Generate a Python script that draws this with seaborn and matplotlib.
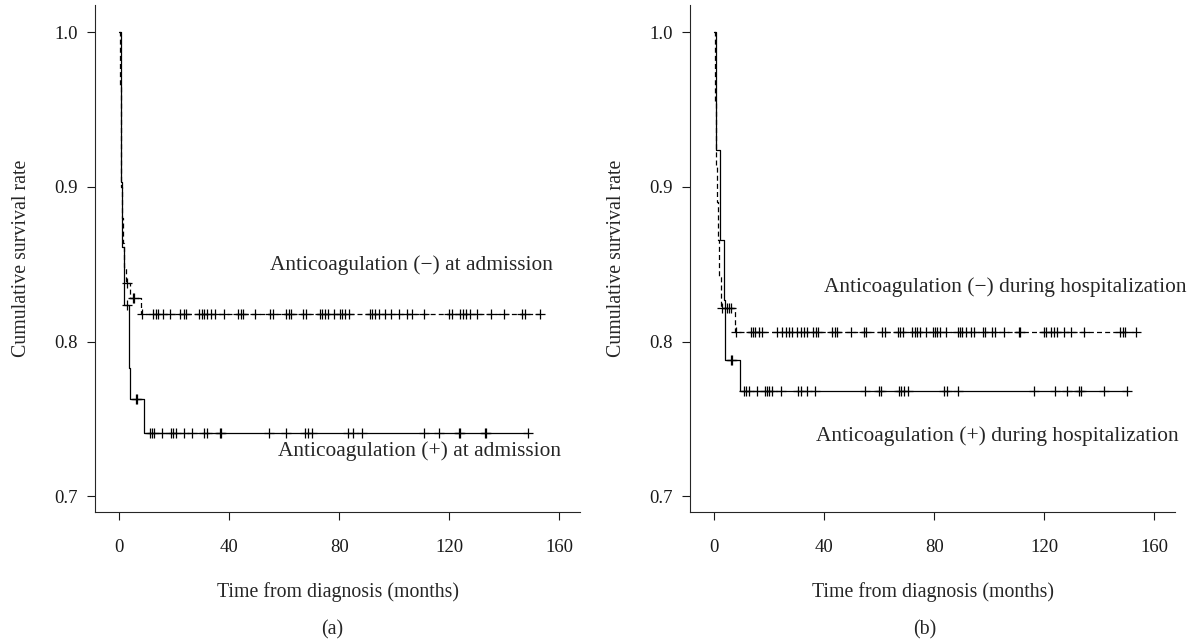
import numpy as np
import pandas as pd
import matplotlib
matplotlib.use("Agg")
import matplotlib.pyplot as plt
import seaborn as sns

# ---------------- Data ----------------
# Panel (a): anticoagulation at admission
a_neg_times = [0, 0.3, 0.6, 0.9, 1.2, 1.5, 1.9, 2.4, 3.9, 8.0]
a_neg_surv = [1.0, 0.965, 0.93, 0.90, 0.88, 0.864, 0.848, 0.838, 0.828, 0.818]
a_neg_censor = [2.8, 5.0, 5.4, 8.5, 12.5, 13.3, 14.1, 16.1, 18.5, 22.2, 23.6, 24.4,
                29.2, 30.1, 31.0, 31.9, 33.3, 34.9, 38.0, 43.4, 44.3, 45.0, 49.5,
                55.0, 55.8, 60.7, 61.6, 62.4, 67.0, 67.9, 73.1, 73.9, 74.8, 75.8,
                78.0, 80.4, 81.2, 82.2, 83.7, 91.3, 92.1, 93.1, 94.3, 96.7, 98.9,
                101.9, 104.6, 106.4, 110.7, 120.0, 121.0, 124.0, 125.0, 126.0,
                127.6, 130.0, 135.0, 139.8, 146.4, 147.6, 153.1]

a_pos_times = [0, 0.6, 1.2, 1.8, 3.7, 4.0, 9.2]
a_pos_surv = [1.0, 0.903, 0.861, 0.824, 0.783, 0.763, 0.741]
a_pos_censor = [2.8, 6.2, 6.6, 11.3, 12.1, 12.9, 15.8, 18.9, 19.8, 20.6, 23.8, 26.4,
                30.9, 31.9, 36.6, 36.9, 54.5, 60.6, 67.6, 68.5, 70.1, 83.2, 85.2,
                88.3, 111.0, 116.1, 123.6, 124.0, 132.9, 133.3, 148.5]

# Panel (b): anticoagulation during hospitalization
b_neg_times = [0, 0.4, 0.8, 1.2, 1.6, 2.0, 2.5, 7.6]
b_neg_surv = [1.0, 0.955, 0.913, 0.89, 0.866, 0.842, 0.822, 0.806]
b_neg_censor = [2.9, 4.7, 5.5, 6.2, 8.0, 13.3, 14.2, 14.8, 16.4, 17.6, 23.0, 24.8,
                26.1, 27.3, 28.5, 30.3, 31.5, 32.7, 33.9, 35.8, 37.0, 37.8, 43.0,
                43.9, 44.8, 49.7, 54.5, 55.4, 61.2, 62.1, 66.7, 67.5, 68.5, 72.1,
                73.1, 73.9, 74.9, 77.0, 79.4, 80.4, 81.2, 82.2, 84.2, 88.5, 89.3,
                90.3, 91.5, 93.3, 94.3, 97.6, 98.5, 101.2, 102.2, 105.5, 110.7,
                111.1, 119.8, 120.6, 122.4, 123.4, 124.5, 127.3, 129.9, 134.3,
                147.6, 148.5, 149.4, 153.5]

b_pos_times = [0, 0.6, 2.2, 3.6, 4.1, 9.3]
b_pos_surv = [1.0, 0.924, 0.866, 0.827, 0.788, 0.768]
b_pos_censor = [6.2, 6.6, 10.9, 11.8, 12.6, 15.8, 18.5, 19.4, 20.1, 21.0, 24.2, 30.7,
                31.5, 33.9, 36.7, 54.9, 59.8, 60.6, 67.3, 68.1, 69.1, 70.5, 83.6,
                84.5, 88.5, 116.4, 123.9, 128.2, 132.7, 133.3, 141.8, 150.1]

labels_a = ["Anticoagulation (\u2212) at admission", "Anticoagulation (+) at admission"]
labels_b = ["Anticoagulation (\u2212) during hospitalization",
            "Anticoagulation (+) during hospitalization"]

x_ticks = [0, 40, 80, 120, 160]
y_ticks = [0.7, 0.8, 0.9, 1.0]

# ---------------- Style ----------------
sns.set_style("ticks")
plt.rcParams["font.family"] = ["Liberation Serif", "DejaVu Serif"]
plt.rcParams["axes.linewidth"] = 0.8
plt.rcParams["xtick.major.width"] = 0.8
plt.rcParams["ytick.major.width"] = 0.8
plt.rcParams["xtick.major.size"] = 5.5
plt.rcParams["ytick.major.size"] = 5.5
plt.rcParams["xtick.color"] = "#1a1a1a"
plt.rcParams["ytick.color"] = "#1a1a1a"

FS_TICK = 13.5
FS_LAB = 14.3
FS_ANN = 15.4

fig = plt.figure(figsize=(11.92, 6.44), dpi=100)
ax_a = fig.add_axes([0.0797, 0.205, 0.4069, 0.787])
ax_b = fig.add_axes([0.5789, 0.205, 0.4068, 0.787])


def step_frame(times, surv, censor):
    t = list(times) + [max(censor)]
    s = list(surv) + [surv[-1]]
    return pd.DataFrame({"t": t, "s": s})


def censor_frame(times, surv, censor):
    idx = np.searchsorted(np.asarray(times), np.asarray(censor), side="right") - 1
    return pd.DataFrame({"t": censor, "s": np.asarray(surv)[idx]})


def draw(ax, neg, pos):
    for (times, surv, cens), ls in ((neg, (0, (4, 2.5))), (pos, "-")):
        sns.lineplot(data=step_frame(times, surv, cens), x="t", y="s", ax=ax,
                     drawstyle="steps-post", estimator=None, sort=False,
                     color="black", linewidth=0.9, linestyle=ls)
        cf = censor_frame(times, surv, cens)
        sns.scatterplot(data=cf, x="t", y="s", ax=ax, marker="+", s=60,
                        color="black", linewidth=0.9, zorder=3)
    ax.set_xlim(-8.7, 167.5)
    ax.set_ylim(0.690, 1.0174)
    ax.set_xticks(x_ticks)
    ax.set_yticks(y_ticks)
    ax.set_xticklabels([str(v) for v in x_ticks], fontsize=FS_TICK)
    ax.set_yticklabels([f"{v:.1f}" for v in y_ticks], fontsize=FS_TICK)
    ax.tick_params(axis="x", pad=14)
    ax.tick_params(axis="y", pad=7)
    ax.set_xlabel("Time from diagnosis (months)", fontsize=FS_LAB, labelpad=19)
    ax.set_ylabel("Cumulative survival rate", fontsize=FS_LAB, labelpad=17)
    sns.despine(ax=ax)


draw(ax_a, (a_neg_times, a_neg_surv, a_neg_censor), (a_pos_times, a_pos_surv, a_pos_censor))
draw(ax_b, (b_neg_times, b_neg_surv, b_neg_censor), (b_pos_times, b_pos_surv, b_pos_censor))

ax_a.text(54.9, 0.8497, labels_a[0], fontsize=FS_ANN, ha="left", va="center")
ax_a.text(57.8, 0.7295, labels_a[1], fontsize=FS_ANN, ha="left", va="center")
ax_b.text(40.0, 0.8355, labels_b[0], fontsize=FS_ANN, ha="left", va="center")
ax_b.text(37.1, 0.7390, labels_b[1], fontsize=FS_ANN, ha="left", va="center")

fig.text(332 / 1192, 1 - 630 / 644, "(a)", fontsize=FS_LAB, ha="center", va="center")
fig.text(925 / 1192, 1 - 630 / 644, "(b)", fontsize=FS_LAB, ha="center", va="center")

fig.savefig("out.png", dpi=100)
